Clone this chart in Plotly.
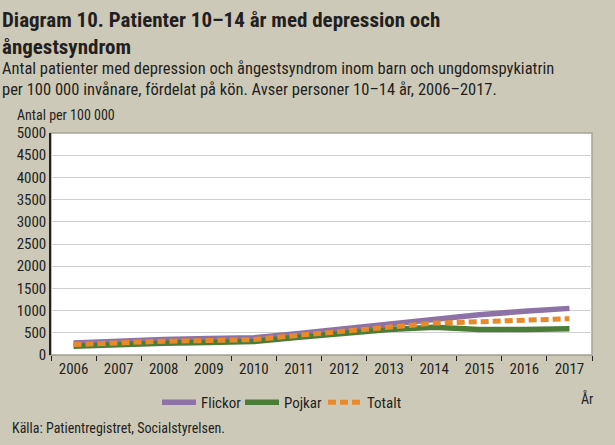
import plotly.graph_objects as go

years = ["2006", "2007", "2008", "2009", "2010", "2011", "2012", "2013", "2014", "2015", "2016", "2017"]
flickor = [270, 318, 348, 370, 386, 484, 590, 704, 818, 909, 984, 1050]
pojkar = [195, 234, 264, 280, 302, 400, 484, 575, 627, 575, 575, 590]
totalt = [234, 280, 310, 325, 348, 445, 545, 627, 718, 750, 780, 818]
y_ticks = [0, 500, 1000, 1500, 2000, 2500, 3000, 3500, 4000, 4500, 5000]

BG = "#cdc9b8"
FONT = "Liberation Sans Narrow, Roboto Condensed, Roboto, sans-serif"

fig = go.Figure()
fig.add_trace(go.Scatter(x=years, y=flickor, name="Flickor", mode="lines",
                         line=dict(color="#8d72a6", width=5.5)))
fig.add_trace(go.Scatter(x=years, y=pojkar, name="Pojkar", mode="lines",
                         line=dict(color="#4c7d38", width=5.5)))
fig.add_trace(go.Scatter(x=years, y=totalt, name="Totalt", mode="lines",
                         line=dict(color="#e8892b", width=5, dash="8px,4px")))

fig.update_layout(
    width=615, height=445,
    paper_bgcolor=BG, plot_bgcolor="white",
    margin=dict(l=51, r=23, t=133, b=90),
    font=dict(family=FONT, color="#231f20", size=14),
    showlegend=True,
    legend=dict(orientation="h", x=(157 - 51) / 541, xanchor="left", y=-31 / 222, yanchor="top",
                bgcolor="rgba(0,0,0,0)", font=dict(size=15, family=FONT),
                itemwidth=34, entrywidth=34, entrywidthmode="pixels"),
    xaxis=dict(type="category", range=[-0.5, 11.5], showgrid=False,
               ticks="outside", ticklen=5, tickcolor="#231f20", tickwidth=1,
               tickson="boundaries", showline=True, linecolor="#a8a597",
               tickfont=dict(size=15, family=FONT), fixedrange=True),
    yaxis=dict(range=[0, 5000], tickvals=y_ticks, showgrid=True, gridcolor="#cfcfcf",
               gridwidth=1, showline=True, linecolor="#231f20", linewidth=1.5,
               ticks="", tickfont=dict(size=15, family=FONT), zeroline=False),
)

fig.add_shape(type="rect", xref="paper", yref="paper", x0=0, x1=1, y0=0, y1=1,
              line=dict(color="#a8a597", width=1.5), layer="below")

fig.add_annotation(text="<b>Diagram 10. Patienter 10–14 år med depression och<br>ångestsyndrom</b>",
                   xref="paper", yref="paper", x=-51/541, y=1 + 127/222,
                   xanchor="left", yanchor="top", align="left", showarrow=False,
                   font=dict(size=21, family=FONT, color="#231f20"))
fig.add_annotation(text="Antal patienter med depression och ångestsyndrom inom barn och ungdomspykiatrin<br>per 100 000 invånare, fördelat på kön. Avser personer 10–14 år, 2006–2017.",
                   xref="paper", yref="paper", x=-51/541, y=1 + 76/222,
                   xanchor="left", yanchor="top", align="left", showarrow=False,
                   font=dict(size=16.5, family=FONT, color="#231f20"))
fig.add_annotation(text="Antal per 100 000", xref="paper", yref="paper",
                   x=-36/541, y=1 + 8/222, xanchor="left", yanchor="bottom",
                   showarrow=False, font=dict(size=14, family=FONT))
fig.add_annotation(text="År", xref="paper", yref="paper",
                   x=1.005, y=-33/222, xanchor="right", yanchor="top",
                   showarrow=False, font=dict(size=14, family=FONT))
fig.add_annotation(text="Källa: Patientregistret, Socialstyrelsen.", xref="paper", yref="paper",
                   x=-41/541, y=-63/222, xanchor="left", yanchor="top",
                   showarrow=False, font=dict(size=14, family=FONT))

fig.write_html("out.html", config={"displayModeBar": False},
               post_script="document.body.style.margin='0px';")
